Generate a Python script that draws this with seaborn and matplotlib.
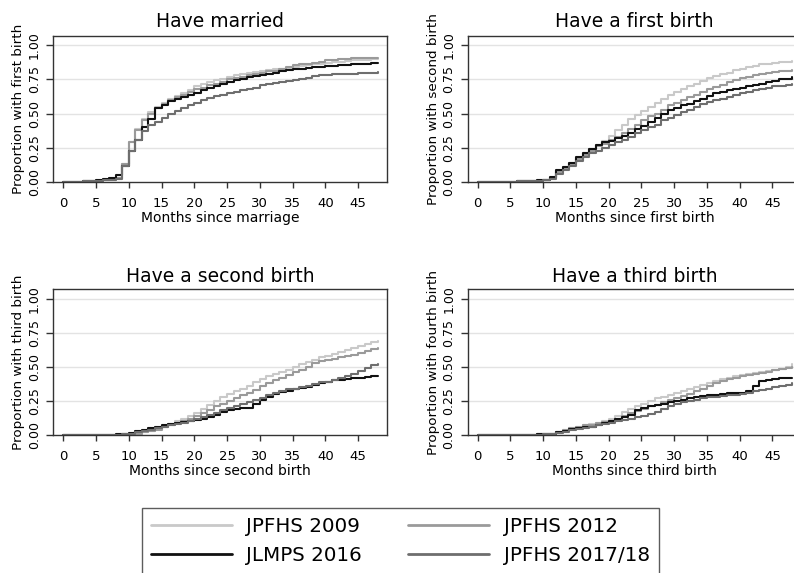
import numpy as np
import pandas as pd
import matplotlib
matplotlib.use("Agg")
import matplotlib.pyplot as plt
import seaborn as sns

# ---------------- data ----------------
months = list(range(0, 49))
surveys = ["JPFHS 2009", "JPFHS 2012", "JLMPS 2016", "JPFHS 2017/18"]
colors = ["#c9c9c9", "#9a9a9a", "#111111", "#6e6e6e"]

titles = ["Have married", "Have a first birth", "Have a second birth", "Have a third birth"]
ylabels = ["Proportion with first birth", "Proportion with second birth",
           "Proportion with third birth", "Proportion with fourth birth"]
xlabels = ["Months since marriage", "Months since first birth",
           "Months since second birth", "Months since third birth"]
xticks = [0, 5, 10, 15, 20, 25, 30, 35, 40, 45]
yticks = [0.0, 0.25, 0.5, 0.75, 1.0]
ytick_labels = ["0.00", "0.25", "0.50", "0.75", "1.00"]

# Panel 1: married -> first birth
p1_2009 = [0, 0, 0, 0.005, 0.008, 0.01, 0.012, 0.015, 0.02,
           .13, .29, .39, .46, .51, .55, .58, .61, .63, .65, .675,
           .70, .72, .73, .745, .755, .77, .78, .79, .80, .805,
           .81, .82, .825, .83, .835, .84, .85, .855, .86, .865,
           .87, .875, .88, .885, .89, .89, .895, .90, .90]
p1_2012 = [0, 0, 0, 0.005, 0.008, 0.01, 0.015, 0.02, 0.03,
           .13, .29, .38, .45, .50, .54, .57, .60, .62, .64, .66,
           .68, .69, .71, .72, .735, .75, .76, .77, .78, .79,
           .80, .81, .815, .825, .84, .855, .86, .865, .87, .875,
           .89, .895, .90, .90, .905, .905, .905, .905, .905]
p1_2016 = [0, 0, 0, 0.005, 0.01, 0.015, 0.02, 0.03, 0.05,
           .12, .23, .31, .40, .46, .54, .56, .59, .61, .62, .635,
           .65, .67, .685, .70, .72, .73, .745, .755, .765, .775,
           .78, .79, .80, .81, .82, .83, .83, .835, .84, .84,
           .845, .85, .855, .855, .86, .86, .86, .87, .87]
p1_1718 = [0, 0, 0, 0.005, 0.008, 0.01, 0.012, 0.015, 0.02,
           .12, .23, .31, .37, .42, .44, .47, .50, .52, .54, .56,
           .58, .60, .615, .63, .64, .65, .66, .67, .68, .69,
           .71, .72, .725, .73, .74, .745, .755, .76, .775, .78,
           .785, .79, .79, .79, .79, .795, .80, .80, .805]

# Panel 2: first birth -> second birth
p2_2009 = [0, 0, 0, 0, 0, 0.002, 0.004, 0.006, 0.008, 0.01, 0.012,
           .03, .08, .11, .14, .17, .21, .24, .27, .30,
           .34, .38, .42, .46, .49, .52, .55, .58, .61, .64,
           .66, .68, .70, .72, .74, .76, .775, .79, .80, .82,
           .83, .84, .85, .86, .865, .87, .875, .88, .885]
p2_2012 = [0, 0, 0, 0, 0, 0.002, 0.004, 0.006, 0.008, 0.01, 0.012,
           .03, .07, .10, .13, .17, .20, .23, .26, .28,
           .31, .33, .36, .39, .42, .45, .48, .50, .53, .56,
           .58, .60, .62, .64, .66, .68, .695, .71, .73, .745,
           .76, .77, .78, .79, .80, .805, .81, .815, .82]
p2_2016 = [0, 0, 0, 0, 0, 0.002, 0.004, 0.006, 0.01, 0.012, 0.015,
           .04, .09, .11, .14, .18, .21, .24, .27, .29,
           .30, .32, .34, .36, .39, .41, .44, .47, .50, .53,
           .54, .56, .57, .59, .61, .63, .65, .66, .67, .68,
           .69, .70, .71, .72, .735, .74, .75, .755, .77]
p2_1718 = [0, 0, 0, 0, 0, 0.002, 0.004, 0.006, 0.008, 0.01, 0.012,
           .02, .06, .09, .12, .15, .18, .21, .23, .25,
           .27, .29, .31, .33, .355, .38, .40, .42, .45, .47,
           .49, .51, .53, .55, .57, .585, .60, .61, .62, .635,
           .65, .66, .67, .68, .69, .70, .705, .71, .72]

# Panel 3: second birth -> third birth
p3_2009 = [0, 0, 0, 0, 0, 0, 0, 0, 0, 0,
           .005, .01, .02, .03, .045, .06, .08, .10, .12, .14,
           .16, .19, .22, .25, .28, .30, .32, .34, .36, .39,
           .41, .43, .445, .46, .475, .495, .52, .535, .55, .57,
           .58, .595, .61, .625, .64, .65, .665, .68, .69]
p3_2012 = [0, 0, 0, 0, 0, 0, 0, 0, 0, 0.005,
           .005, .01, .02, .03, .04, .055, .07, .09, .10, .12,
           .14, .16, .18, .21, .23, .25, .27, .29, .31, .33,
           .36, .38, .40, .42, .44, .46, .48, .50, .53, .54,
           .55, .56, .57, .58, .59, .60, .615, .63, .64]
p3_2016 = [0, 0, 0, 0, 0, 0, 0, 0, 0.01, 0.01,
           .015, .03, .04, .05, .06, .07, .08, .09, .095, .10,
           .11, .12, .13, .15, .17, .18, .19, .195, .20, .23,
           .26, .28, .30, .315, .325, .335, .345, .355, .37, .38,
           .39, .40, .405, .41, .415, .42, .425, .43, .43]
p3_1718 = [0, 0, 0, 0, 0, 0, 0, 0, 0, 0.005,
           .01, .02, .03, .04, .05, .06, .07, .08, .09, .10,
           .12, .13, .145, .16, .18, .20, .21, .23, .24, .255,
           .27, .29, .31, .325, .335, .34, .35, .36, .375, .385,
           .39, .40, .415, .43, .45, .47, .49, .51, .52]

# Panel 4: third birth -> fourth birth
p4_2009 = [0, 0, 0, 0, 0, 0, 0, 0, 0.002, 0.004,
           .006, .01, .02, .035, .05, .06, .07, .08, .09, .10,
           .12, .14, .17, .19, .21, .23, .25, .27, .28, .295,
           .31, .32, .335, .35, .365, .38, .395, .41, .42, .43,
           .44, .45, .455, .46, .47, .48, .485, .495, .52]
p4_2012 = [0, 0, 0, 0, 0, 0, 0, 0, 0.002, 0.004,
           .005, .01, .02, .035, .05, .06, .07, .075, .085, .095,
           .10, .12, .14, .16, .175, .19, .21, .22, .24, .255,
           .27, .285, .30, .32, .34, .36, .38, .395, .41, .42,
           .43, .44, .45, .455, .465, .475, .485, .49, .50]
p4_2016 = [0, 0, 0, 0, 0, 0, 0, 0, 0.002, 0.004,
           .005, .01, .02, .03, .045, .05, .055, .06, .07, .085,
           .10, .115, .13, .15, .18, .20, .21, .22, .23, .24,
           .25, .26, .27, .28, .285, .29, .295, .30, .305, .31,
           .31, .32, .36, .395, .405, .41, .415, .415, .415]
p4_1718 = [0, 0, 0, 0, 0, 0, 0, 0, 0.002, 0.003,
           .004, .008, .015, .025, .035, .045, .05, .06, .07, .08,
           .09, .10, .11, .12, .13, .14, .155, .17, .19, .21,
           .23, .24, .25, .26, .27, .275, .28, .285, .29, .295,
           .30, .31, .32, .33, .34, .35, .36, .37, .38]

panels = [
    [p1_2009, p1_2012, p1_2016, p1_1718],
    [p2_2009, p2_2012, p2_2016, p2_1718],
    [p3_2009, p3_2012, p3_2016, p3_1718],
    [p4_2009, p4_2012, p4_2016, p4_1718],
]

# ---------------- style ----------------
sns.set_style("ticks")
plt.rcParams["font.family"] = ["DejaVu Sans"]
plt.rcParams["text.color"] = "#000000"
plt.rcParams["axes.labelcolor"] = "#000000"
plt.rcParams["xtick.labelcolor"] = "#000000"
plt.rcParams["ytick.labelcolor"] = "#000000"

W, H = 794, 573
fig = plt.figure(figsize=(W / 100, H / 100), dpi=100)

positions = [
    [53.3 / W, 1 - 182 / H, 334 / W, 146 / H],
    [467.7 / W, 1 - 182 / H, 334 / W, 146 / H],
    [53.3 / W, 1 - 435 / H, 334 / W, 145.7 / H],
    [467.7 / W, 1 - 435 / H, 334 / W, 145.7 / H],
]
title_pads = [6.7, 6.7, 5.0, 5.0]
palette = dict(zip(surveys, colors))

axes = []
for i, series in enumerate(panels):
    ax = fig.add_axes(positions[i])
    axes.append(ax)
    frames = []
    for s, vals in zip(surveys, series):
        frames.append(pd.DataFrame({"month": months, "prop": vals, "survey": s}))
    df = pd.concat(frames, ignore_index=True)

    for y in yticks[1:]:
        ax.axhline(y, color="#e3e3e3", lw=1.0, zorder=0)

    sns.lineplot(data=df, x="month", y="prop", hue="survey", hue_order=surveys,
                 palette=palette, drawstyle="steps-post", estimator=None,
                 linewidth=1.5, ax=ax, legend=(i == 0))

    ax.set_xlim(-1.53, 49.47)
    ax.set_ylim(0, 1.068)
    ax.set_xticks(xticks)
    ax.set_xticklabels([str(t) for t in xticks])
    ax.set_yticks(yticks)
    ax.set_yticklabels(ytick_labels)
    ax.tick_params(axis="x", length=4.3, width=1.0, pad=6.2, labelsize=9.5,
                   color="#333333", labelcolor="#000000", direction="out")
    ax.tick_params(axis="y", length=4.8, width=1.0, pad=4.0, labelsize=9.0,
                   color="#333333", labelcolor="#000000", direction="out")
    plt.setp(ax.get_yticklabels(), rotation=90, va="center", ha="right")
    for sp in ax.spines.values():
        sp.set_visible(True)
        sp.set_color("#333333")
        sp.set_linewidth(1.0)
    ax.set_title(titles[i], fontsize=13.5, pad=title_pads[i], color="#000000")
    ax.set_xlabel(xlabels[i], fontsize=10, color="#000000")
    ax.set_ylabel(ylabels[i], fontsize=9.7, color="#000000")
    ax.xaxis.set_label_coords(0.5, -29.0 / positions[i][3] / H)
    ax.yaxis.set_label_coords(-28.0 / 334, 0.5)
    ax.grid(False)

handles, labels = axes[0].get_legend_handles_labels()
axes[0].get_legend().remove()
hmap = dict(zip(labels, handles))
order = ["JPFHS 2009", "JLMPS 2016", "JPFHS 2012", "JPFHS 2017/18"]
leg = fig.legend([hmap[o] for o in order], order, loc="upper left",
                 bbox_to_anchor=(141.7 / W, 1 - 508.3 / H), bbox_transform=fig.transFigure,
                 ncol=2, fontsize=14.3, frameon=True, fancybox=False, shadow=False,
                 handlelength=4.1, handletextpad=0.72, columnspacing=2.3,
                 borderpad=0.45, labelspacing=0.5, borderaxespad=0)
leg.get_frame().set_edgecolor("#333333")
leg.get_frame().set_linewidth(1.0)
for t in leg.get_texts():
    t.set_color("#000000")
for lh in leg.get_lines():
    lh.set_linewidth(2.0)

fig.savefig("out.png", dpi=100)
